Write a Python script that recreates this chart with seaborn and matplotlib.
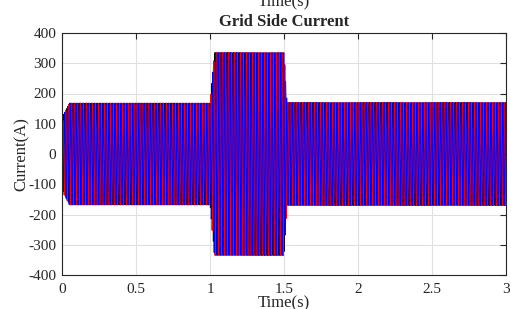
import matplotlib.pyplot as plt
import numpy as np
import seaborn as sns
import pandas as pd

# amplitude envelope of the grid current
env_time = [0.0, 0.01, 0.05, 1.0, 1.03, 1.5, 1.52, 3.0]
env_amp = [90, 130, 168, 168, 335, 335, 170, 170]
freq = 50.0
phases = {'Ib': -2 * np.pi / 3, 'Ia': 0.0, 'Ic': 2 * np.pi / 3}
colors = {'Ia': 'red', 'Ib': 'black', 'Ic': 'blue'}
widths = {'Ia': 0.9, 'Ib': 0.5, 'Ic': 0.75}
# start-up spike, first samples per phase
spike = {'Ia': [0, -400, -250, 150], 'Ib': [0, 120, -400, -100], 'Ic': [0, 340, 380, 60]}

t = np.arange(0, 3.0, 1e-4)
amp = np.interp(t, env_time, env_amp)
frames = []
for name, ph in phases.items():
    y = amp * np.sin(2 * np.pi * freq * t + ph)
    y[:len(spike[name])] = spike[name]
    frames.append(pd.DataFrame({'t': t, 'i': y, 'phase': name}))
df = pd.concat(frames)

sns.set_style('white')
plt.rcParams['font.family'] = ['Liberation Serif', 'DejaVu Serif']
plt.rcParams['axes.unicode_minus'] = False

fig = plt.figure(figsize=(5.11, 3.09), dpi=100)
ax = fig.add_axes([62 / 511, 1 - 275 / 309, 444 / 511, 242 / 309])
for name in ['Ib', 'Ia', 'Ic']:
    sub = df[df['phase'] == name]
    ax.plot(sub['t'], sub['i'], color=colors[name], lw=widths[name])

ax.set_xlim(0, 3)
ax.set_ylim(-400, 400)
ax.set_xticks([0, 0.5, 1, 1.5, 2, 2.5, 3])
ax.set_xticklabels(['0', '0.5', '1', '1.5', '2', '2.5', '3'])
ax.set_yticks(range(-400, 401, 100))
ax.grid(True, color='#e0e0e0', lw=0.8)
ax.set_axisbelow(True)
ax.tick_params(direction='in', top=True, right=True, length=4, labelsize=11, colors='#262626')
ax.tick_params(axis='x', pad=6)
ax.tick_params(axis='y', pad=4)
for s in ax.spines.values():
    s.set_color('#262626')
    s.set_linewidth(0.8)
ax.set_xlabel('Time(s)', fontsize=12, labelpad=-1, color='#262626')
ax.set_ylabel('Current(A)', fontsize=12, color='#262626')
ax.yaxis.set_label_coords(-0.072, 0.5)
ax.set_title('Grid Side Current', fontsize=12, fontweight='bold', pad=5)
fig.text(284 / 511, 1 - 2 / 309, 'Time(s)', fontsize=12, ha='center', va='center', color='#262626')

fig.savefig('out.png', dpi=100)
